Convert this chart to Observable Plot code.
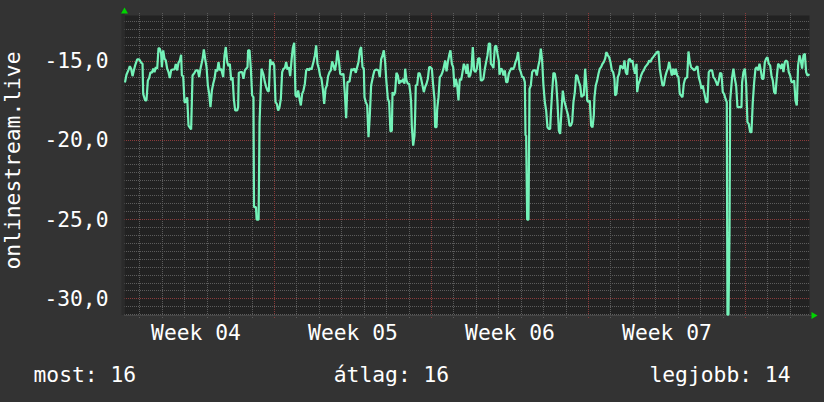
<!DOCTYPE html>
<html><head><meta charset="utf-8">
<script src="https://cdn.jsdelivr.net/npm/d3@7"></script>
<script src="https://cdn.jsdelivr.net/npm/@observablehq/plot@0.6"></script>
<style>html,body{margin:0;padding:0;background:#333;}</style>
</head><body><div id="chart"></div>
<script>
const startTime = "2024-01-22T07:30:00Z";
const endTime = "2024-02-21T20:30:00Z";
const hours = [
0.7,2.1,4.3,5.7,7.1,8.6,10.0,11.4,13.6,15.7,17.8,19.3,20.0,22.1,23.5,25.0,26.4,27.8,29.3,30.7,32.1,33.5,35.0,36.4,37.8,39.2,40.0,41.4,42.8,44.2,45.7,47.1,48.5,49.9,51.4,53.5,54.9,56.4,57.8,59.2,60.6,61.4,62.8,64.2,65.6,67.1,68.5,71.3,72.8,74.9,76.3,78.5,79.9,81.3,83.5,84.9,86.3,87.8,89.2,90.6,92.0,93.5,94.9,96.3,97.7,99.2,100.6,102.0,103.4,105.6,107.0,108.4,109.9,111.3,112.7,114.2,115.6,117.0,118.4,120.6,
121.6,122.3,124.5,125.9,127.3,128.8,130.2,131.6,132.3,133.8,135.2,136.6,138.0,138.6,140.7,141.4,143.5,144.5,146.6,148.7,150.2,151.6,153.0,154.4,155.9,157.3,158.7,160.2,161.6,163.0,164.4,165.9,167.3,168.7,170.1,171.6,173.0,174.4,175.8,177.3,178.7,180.1,181.6,183.0,184.4,185.8,187.3,188.7,190.1,191.5,193.0,194.4,195.8,197.2,198.7,200.1,202.2,203.7,205.1,206.5,208.0,209.4,210.8,212.2,213.7,215.1,216.5,217.9,219.4,220.8,222.2,223.6,225.1,226.5,227.9,229.4,230.8,232.2,234.3,235.8,237.2,238.6,240.8,242.9,
244.0,246.1,247.5,249.0,250.4,251.8,253.2,254.7,256.1,256.8,258.2,259.7,261.1,262.5,263.9,266.1,267.5,269.6,271.8,273.2,274.6,276.1,277.5,278.9,280.3,281.8,283.2,284.6,286.1,286.8,288.2,289.6,291.0,292.5,293.9,295.3,296.8,298.2,299.6,300.3,301.8,303.2,304.6,306.0,306.7,307.5,308.9,310.3,311.0,311.7,313.2,314.6,316.0,317.4,318.9,320.3,321.7,323.2,324.6,326.0,327.4,328.9,330.3,331.7,332.4,333.9,334.6,336.0,337.4,338.8,340.3,341.7,343.1,344.6,346.0,347.4,348.8,350.3,351.7,353.1,354.5,356.0,357.4,358.8,360.2,361.7,363.1,364.5,366.0,
367.0,368.4,369.9,371.3,372.7,374.1,375.6,377.0,378.4,379.9,381.3,382.7,384.1,385.6,387.0,388.4,389.8,391.3,392.0,393.4,394.8,396.3,397.7,399.1,400.5,401.3,402.7,404.1,405.5,407.0,408.4,409.8,411.2,412.7,414.1,415.5,417.0,418.4,419.8,421.2,422.7,424.1,425.5,426.9,428.4,429.1,429.8,430.9,432.3,433.4,434.8,436.2,437.6,439.8,441.2,442.6,444.1,445.5,446.9,448.3,449.8,451.2,452.6,454.0,455.5,456.2,457.6,459.0,460.5,461.9,463.3,464.8,466.2,467.6,469.0,470.5,471.9,473.3,474.7,476.2,477.6,479.0,480.4,481.9,483.3,484.7,486.2,487.6,489.0,
490.1,491.5,492.9,494.3,495.1,496.5,497.9,499.3,500.8,502.2,502.9,504.3,505.8,507.2,508.6,510.0,511.5,512.9,514.3,515.7,517.2,518.6,520.0,521.5,522.9,524.3,525.0,526.4,527.9,529.3,530.7,532.2,533.6,535.0,536.4,537.9,539.3,540.7,542.1,543.6,545.0,546.4,547.9,548.6,550.0,551.4,552.8,554.3,555.7,557.1,558.6,560.0,561.4,562.8,564.3,565.7,567.1,568.5,570.0,571.4,572.8,574.2,575.7,577.1,578.5,580.0,581.4,582.8,584.2,585.7,587.1,588.5,589.9,591.4,592.8,594.2,595.6,597.1,598.5,599.9,602.1,603.5,604.9,606.3,607.8,609.9,612.1,
613.1,614.5,616.0,617.4,618.8,620.2,622.4,623.8,625.2,626.7,628.8,630.2,631.7,633.1,634.5,635.9,637.4,638.8,640.2,641.6,643.1,644.5,645.2,646.3,647.4,648.1,650.2,651.6,653.1,654.5,655.9,657.3,658.8,660.2,660.9,662.3,663.8,665.2,666.6,668.0,669.5,670.9,672.3,673.8,675.2,676.6,678.0,679.5,680.9,682.3,683.7,685.2,686.6,688.0,689.4,690.9,692.3,693.7,695.2,696.6,698.0,699.4,700.9,702.3,703.7,705.1,706.6,708.0,709.4,710.8,712.3,713.7,715.1,716.6,718.0,719.4,720.8,722.3,723.7,725.1,726.5,728.0,729.4,730.8,732.2
];
const values = [
-16.27,-15.84,-15.53,-15.30,-15.46,-15.93,-15.57,-15.25,-14.87,-14.87,-15.08,-15.15,-17.05,-17.47,-17.47,-16.2,-16.05,-15.68,-15.72,-15.46,-15.68,-15.36,-15.46,-14.16,-14.2,-14.51,-15.36,-14.3,-14.83,-14.94,-15.46,-15.68,-16.05,-15.57,-15.51,-15.51,-15.17,-15.57,-15.08,-14.94,-14.58,-15.89,-15.93,-17.57,-17.57,-17.26,-19.05,-19.30,-15.89,-15.72,-15.57,-15.57,-15.99,-15.46,-14.87,-14.24,-14.83,-15.36,-16.52,-17.05,-17.89,-16.84,-16.41,-16.1,-15.51,-15.63,-15.04,-15.57,-15.46,-15.99,-14.62,-14.09,-15.04,-15.30,-15.15,-16.2,-15.99,-17.36,-18.1,-18.1,
-17.89,-15.72,-15.68,-15.68,-16.1,-15.57,-15.46,-15.36,-14.3,-14.3,-15.46,-17.15,-17.26,-24.2,-24.2,-25.0,-25.0,-18.88,-15.46,-15.84,-16.31,-16.62,-16.84,-16.9,-14.87,-15.21,-15.04,-15.25,-17.57,-17.68,-18.1,-17.89,-17.36,-15.68,-15.46,-15.42,-15.04,-15.51,-15.36,-15.93,-14.94,-14.16,-13.82,-17.15,-17.26,-16.84,-17.36,-17.78,-17.05,-16.84,-16.41,-15.57,-15.46,-15.57,-15.42,-15.51,-15.04,-14.62,-13.99,-15.15,-15.46,-15.93,-16.1,-16.73,-17.68,-16.73,-16.52,-15.93,-15.68,-15.57,-15.0,-15.25,-15.57,-15.15,-14.3,-14.94,-15.78,-15.84,-15.78,-17.05,-18.59,-16.31,-16.27,-15.46,
-15.57,-15.46,-15.72,-15.36,-15.04,-14.3,-14.09,-15.36,-15.46,-17.26,-17.57,-17.78,-19.79,-18.42,-16.52,-15.89,-15.57,-15.51,-15.57,-15.99,-14.87,-14.62,-14.3,-15.04,-16.31,-17.36,-17.57,-19.43,-19.37,-16.94,-17.15,-16.94,-15.72,-15.89,-16.41,-16.2,-16.31,-16.1,-16.41,-15.46,-16.2,-16.41,-16.41,-17.05,-17.57,-19.16,-20.32,-19.68,-18.42,-16.52,-16.48,-15.72,-15.78,-16.1,-16.52,-16.94,-16.62,-16.41,-16.1,-15.36,-15.36,-15.46,-16.52,-17.36,-19.16,-19.16,-18.0,-17.26,-15.99,-15.89,-15.68,-15.36,-14.94,-15.63,-15.04,-14.62,-14.3,-15.15,-15.36,-16.62,-16.1,-16.52,-17.47,-16.1,-16.2,-15.68,-15.15,-15.36,-15.78,
-15.15,-15.99,-15.89,-15.46,-14.09,-15.57,-15.68,-15.46,-14.83,-14.79,-16.2,-16.2,-16.1,-15.46,-15.04,-14.62,-13.88,-13.88,-15.15,-15.25,-15.42,-14.09,-13.99,-14.51,-14.94,-15.84,-15.46,-15.51,-15.89,-15.57,-16.31,-16.31,-15.78,-15.57,-15.42,-15.51,-15.36,-15.04,-14.83,-14.41,-15.46,-15.68,-15.99,-15.99,-16.31,-19.68,-19.68,-25.0,-25.0,-16.73,-16.52,-15.68,-15.57,-15.57,-15.89,-15.36,-14.94,-14.2,-14.94,-16.52,-17.57,-18.1,-19.16,-19.26,-19.26,-18.31,-16.94,-15.72,-15.78,-16.31,-17.57,-19.37,-19.58,-18.1,-16.84,-17.47,-17.78,-18.1,-18.42,-19.05,-19.05,-18.84,-17.57,-16.94,-15.84,-15.93,-16.31,-16.52,-17.26,
-17.15,-17.15,-15.46,-16.52,-17.47,-17.57,-17.47,-19.05,-19.16,-18.42,-17.26,-16.52,-16.2,-15.78,-15.46,-15.36,-15.15,-15.04,-14.83,-14.41,-14.62,-14.73,-15.04,-15.57,-15.68,-16.1,-17.15,-17.05,-15.99,-15.78,-15.25,-15.36,-15.46,-14.94,-15.68,-15.84,-14.94,-14.83,-15.04,-14.94,-15.46,-15.78,-15.15,-16.94,-16.41,-16.2,-15.89,-15.68,-15.57,-15.36,-15.25,-15.15,-14.94,-15.04,-14.83,-14.73,-14.62,-14.51,-14.41,-14.37,-15.46,-15.99,-16.52,-16.52,-15.99,-15.68,-15.46,-15.04,-15.46,-15.89,-15.46,-15.84,-15.46,-15.89,-15.99,-17.05,-17.15,-17.26,-16.41,-16.1,-15.99,-14.37,-15.04,-15.36,-15.46,-15.57,-15.36,
-15.30,-15.99,-16.31,-16.73,-16.52,-16.94,-17.57,-17.57,-15.68,-15.57,-15.57,-15.99,-16.1,-16.31,-16.52,-16.2,-15.72,-15.78,-16.94,-17.05,-17.36,-17.57,-31.0,-31.0,-25.8,-17.47,-15.99,-15.46,-16.1,-16.52,-17.89,-17.89,-17.89,-17.89,-16.31,-15.68,-15.46,-16.41,-18.84,-18.95,-19.47,-19.47,-17.57,-16.31,-15.46,-15.36,-15.57,-15.15,-15.57,-16.1,-16.1,-15.04,-14.83,-14.73,-15.15,-15.25,-15.89,-16.2,-16.94,-17.05,-15.99,-15.15,-15.25,-15.46,-15.15,-15.68,-15.04,-14.94,-15.04,-15.68,-15.89,-16.31,-16.31,-16.2,-17.47,-17.78,-15.25,-14.62,-14.94,-15.46,-14.62,-14.51,-15.68,-15.89,-15.84
];
const yTicks = [-15, -20, -25, -30];
const weekCenters = ["2024-01-25T12:00:00Z", "2024-02-01T12:00:00Z", "2024-02-08T12:00:00Z", "2024-02-15T12:00:00Z"];
const weekLabels = ["Week 04", "Week 05", "Week 06", "Week 07"];
const legendLabels = ["most: 16", "átlag: 16", "legjobb: 14"];
const yTitle = "onlinestream.live";

const t0 = new Date(startTime), t1 = new Date(endTime);
const data = hours.map((h, i) => ({date: new Date(+t0 + h * 3600e3), value: values[i]}));
const yDomain = [-31.05, -12.1];
const days = d3.utcDay.range(d3.utcDay.ceil(t0), t1);
const weekDays = days.filter(d => d.getUTCDay() === 1);
const minorDays = days.filter(d => d.getUTCDay() !== 1);
const halfSteps = d3.range(-31, -12, 0.5).filter(v => v % 5 !== 0);
const FONT = "DejaVu Sans Mono";

const chart = Plot.plot({
  width: 824, height: 402,
  marginLeft: 124, marginRight: 15, marginTop: 15, marginBottom: 87,
  style: {background: "#333", color: "white", fontFamily: FONT, fontSize: "21.3px", overflow: "visible"},
  x: {type: "utc", domain: [t0, t1], axis: null},
  y: {domain: yDomain, ticks: yTicks, tickSize: 0, tickPadding: 16, label: null,
      tickFormat: d => d.toFixed(1).replace(".", ",")},
  marks: [
    Plot.frame({fill: "#222", stroke: "none"}),
    Plot.ruleY(halfSteps, {stroke: "#5c5c5c", strokeDasharray: "1,1", shapeRendering: "crispEdges"}),
    Plot.ruleX(minorDays, {stroke: "#5c5c5c", strokeDasharray: "1,1", insetTop: -2, insetBottom: -3, shapeRendering: "crispEdges"}),
    Plot.ruleY(yTicks, {stroke: "#8c3b3b", strokeDasharray: "1,1", shapeRendering: "crispEdges"}),
    Plot.ruleX(weekDays, {stroke: "#8c3b3b", strokeDasharray: "1,1", insetTop: -2, insetBottom: -3, shapeRendering: "crispEdges"}),
    Plot.ruleY([yDomain[0]], {stroke: "#464646", insetRight: -4, shapeRendering: "crispEdges"}),
    Plot.ruleX([t0], {stroke: "#2b2b2b", strokeWidth: 3, dx: -1.5, insetTop: -4}),
    Plot.line(data, {x: "date", y: "value", stroke: "#74f2b8", strokeWidth: 2.2, strokeLinejoin: "miter"}),
    Plot.dot([0], {x: () => t0, y: () => yDomain[1], dy: -4, symbol: "triangle", r: 2.6, fill: "#00d400", stroke: "none"}),
    Plot.dot([0], {x: () => t1, y: () => yDomain[0], dx: 4, symbol: "triangle", rotate: 90, r: 2.6, fill: "#00d400", stroke: "none"}),
    Plot.text(weekLabels, {x: (d, i) => new Date(weekCenters[i]), frameAnchor: "bottom", lineAnchor: "bottom", dy: 24, fill: "white", text: d => d}),
    Plot.text([yTitle], {frameAnchor: "left", rotate: -90, textAnchor: "middle", lineAnchor: "bottom", dx: -105, dy: -5, fill: "white", text: d => d}),
    Plot.text([legendLabels[0]], {frameAnchor: "bottom-left", textAnchor: "start", lineAnchor: "bottom", dx: -91, dy: 66, fill: "white", text: d => d}),
    Plot.text([legendLabels[1]], {frameAnchor: "bottom", textAnchor: "middle", lineAnchor: "bottom", dx: -75.5, dy: 66, fill: "white", text: d => d}),
    Plot.text([legendLabels[2]], {frameAnchor: "bottom-right", textAnchor: "end", lineAnchor: "bottom", dx: -19, dy: 66, fill: "white", text: d => d})
  ]
});
document.getElementById("chart").appendChild(chart);
</script>
</body></html>
